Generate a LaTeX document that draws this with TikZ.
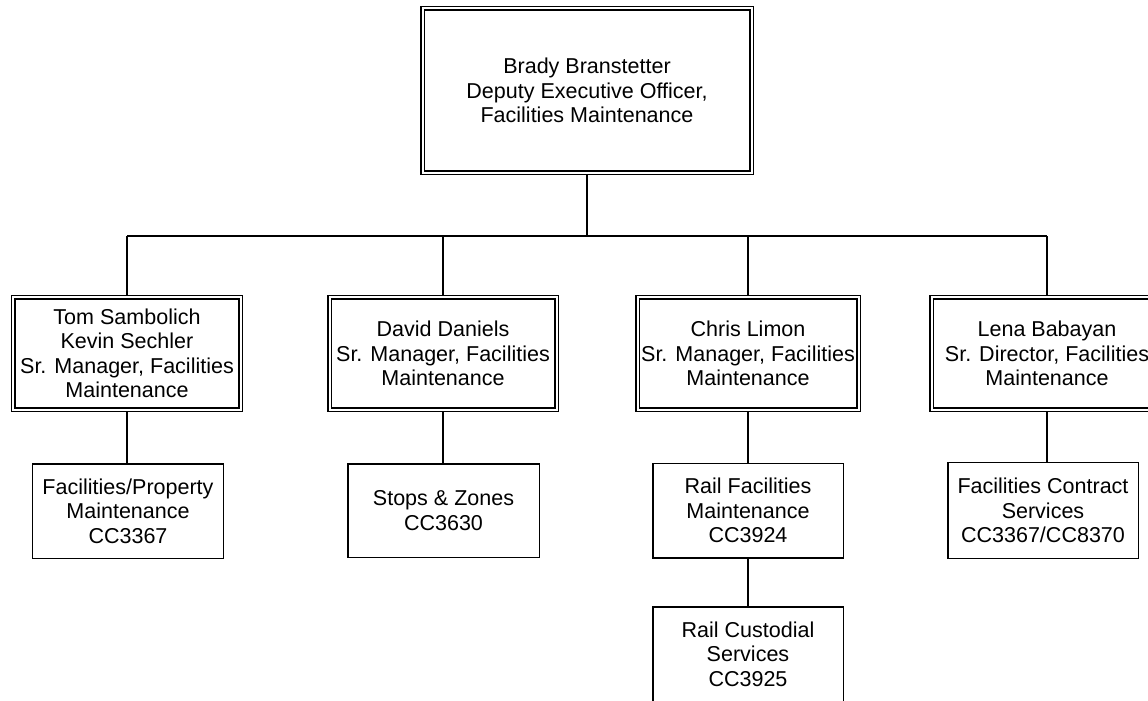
\documentclass[tikz,border=0pt]{standalone}
\usepackage{fontspec}
\setmainfont{Liberation Sans}
\usetikzlibrary{backgrounds}
\begin{document}
\begin{tikzpicture}[x=1bp,y=-1bp,
  every node/.style={font=\fontsize{21.6}{24.5}\selectfont, align=center, inner sep=0pt, outer sep=0pt},
  mgr/.style={draw, fill=white, line width=1.4bp, double=white, double distance=2bp, minimum width=227bp, minimum height=112.4bp},
  unitbox/.style={draw, fill=white, line width=1.5bp, minimum width=190.5bp, minimum height=94.5bp},
  link/.style={line width=1.5bp}]
\useasboundingbox (0,0) rectangle (1148,701);
\clip (0,0) rectangle (1148,701);
% manager boxes
\node[mgr, minimum width=329bp, minimum height=164.4bp] (top) at (587,90.5) {Brady Branstetter\\Deputy Executive Officer,\\Facilities Maintenance};
\node[mgr] (tom) at (127,353.5) {Tom Sambolich\\Kevin Sechler\\Sr. Manager, Facilities\\Maintenance};
\node[mgr] (david) at (443,353.5) {David Daniels\\Sr. Manager, Facilities\\Maintenance};
\node[mgr, minimum width=221bp] (chris) at (748,353.5) {Chris Limon\\Sr. Manager, Facilities\\Maintenance};
\node[mgr, minimum width=231bp] (lena) at (1047,353.5) {Lena Babayan\\Sr. Director, Facilities\\Maintenance};
% unit boxes
\node[unitbox] (fp) at (128,511) {Facilities/Property\\Maintenance\\CC3367};
\node[unitbox, minimum width=191.5bp, minimum height=93.5bp] (stops) at (443.5,510.5) {Stops \& Zones\\CC3630};
\node[unitbox] (railfac) at (748,510.7) {Rail Facilities\\Maintenance\\CC3924};
\node[unitbox] (railcust) at (748,654) {Rail Custodial\\Services\\CC3925};
\node[unitbox, minimum height=96bp] (contract) at (1043,510.5) {Facilities Contract\\Services\\CC3367/CC8370};
% connectors
\coordinate (bus) at (0,236);
\begin{scope}[on background layer]
\draw[link] (top.south) -- (top.south |- bus);
\draw[link] (tom.north |- bus) -- (lena.north |- bus);
\draw[link] (tom.north |- bus) -- (tom.north);
\draw[link] (david.north |- bus) -- (david.north);
\draw[link] (chris.north |- bus) -- (chris.north);
\draw[link] (lena.north |- bus) -- (lena.north);
\draw[link] (tom.south) -- (tom.south |- fp.north);
\draw[link] (david.south) -- (david.south |- stops.north);
\draw[link] (chris.south) -- (chris.south |- railfac.north);
\draw[link] (railfac.south) -- (railcust.north);
\draw[link] (lena.south) -- (lena.south |- contract.north);
\end{scope}
\end{tikzpicture}
\end{document}
